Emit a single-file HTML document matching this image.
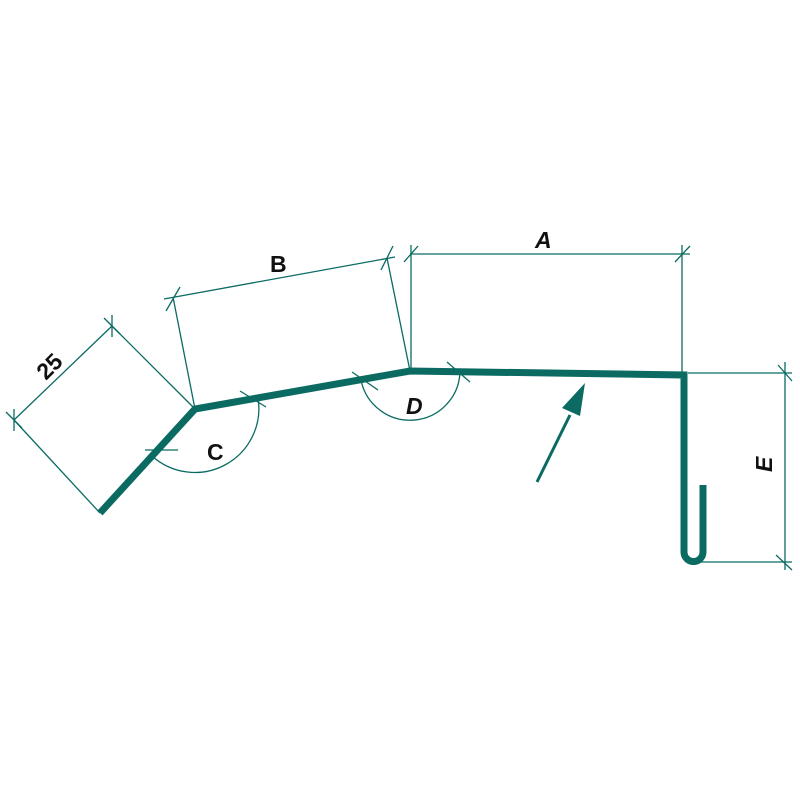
<!DOCTYPE html>
<html><head><style>body{margin:0;background:#fff}</style></head><body>
<svg width="800" height="800" viewBox="0 0 800 800" xmlns="http://www.w3.org/2000/svg">
<rect width="800" height="800" fill="#fff"/>
<g stroke="#0b6b63" stroke-width="1.3" fill="none">
<line x1="14" y1="420" x2="112" y2="326"/>
<line x1="112" y1="326" x2="195" y2="409"/>
<line x1="14" y1="420" x2="100" y2="513"/>
<line x1="104" y1="318" x2="120" y2="334"/><line x1="112" y1="315" x2="112" y2="337"/>
<line x1="6" y1="412" x2="22" y2="428"/><line x1="14" y1="409" x2="14" y2="431"/>
<line x1="164" y1="299" x2="395" y2="257"/>
<line x1="173" y1="297" x2="195" y2="409"/>
<line x1="387" y1="258" x2="410" y2="371"/>
<line x1="166" y1="311" x2="180" y2="287"/>
<line x1="381" y1="270" x2="393" y2="246"/>
<line x1="410" y1="254" x2="690" y2="254"/>
<line x1="411" y1="245" x2="411" y2="371"/>
<line x1="682" y1="245" x2="682" y2="373"/>
<line x1="404" y1="262" x2="418" y2="246"/>
<line x1="675" y1="262" x2="690" y2="246"/>
<line x1="785" y1="362" x2="785" y2="570"/>
<line x1="688" y1="373" x2="792" y2="373"/>
<line x1="700" y1="562" x2="792" y2="562"/>
<line x1="778" y1="365" x2="792" y2="381"/>
<line x1="776" y1="555" x2="792" y2="570"/>
<path d="M152 456 A64 64 0 0 0 258 398"/>
<line x1="145" y1="450" x2="178" y2="450"/><line x1="240" y1="391" x2="266" y2="407"/>
<path d="M361 380 A50 50 0 0 0 460 372"/>
<line x1="352" y1="372" x2="378" y2="390"/><line x1="447" y1="362" x2="470" y2="382"/>
</g>
<g stroke="#0b6b63" stroke-width="7" fill="none" stroke-linejoin="miter">
<path d="M100 513 L195 409 L410 371 L684 375 L684 552 A9.5 9.5 0 0 0 703 552 L703 485"/>
</g>
<line x1="537" y1="482" x2="570" y2="415" stroke="#0b6b63" stroke-width="3"/>
<polygon points="585,383 562,408 580,416" fill="#0b6b63"/>
<g font-family="Liberation Sans, sans-serif" font-size="23" font-weight="bold" fill="#111">
<text x="270" y="272">B</text>
<text x="535" y="248" font-style="italic">A</text>
<text x="207" y="460">C</text>
<text x="406" y="414" font-style="italic">D</text>
<text transform="translate(46,381) rotate(-45)">25</text>
<text transform="translate(772,472) rotate(-90)" font-style="italic">E</text>
</g>
</svg>
</body></html>
